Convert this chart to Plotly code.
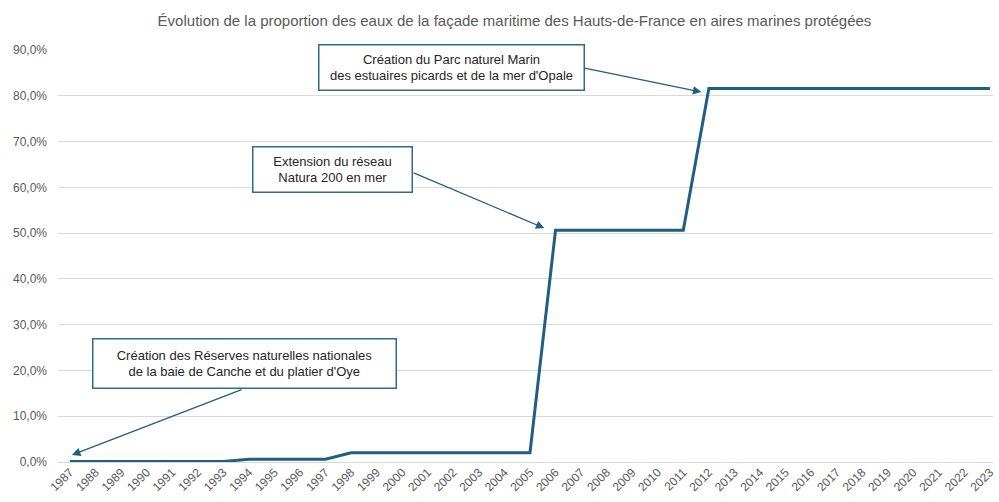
import plotly.graph_objects as go

years = list(range(1987, 2024))
values = ([0.001] * 7 +      # 1987-1993
          [0.006] * 4 +      # 1994-1997
          [0.020] * 8 +      # 1998-2005
          [0.506] * 6 +      # 2006-2011
          [0.816] * 12)      # 2012-2023

title = "Évolution de la proportion des eaux de la façade maritime des Hauts-de-France en aires marines protégées"
notes = [
    "Création des Réserves naturelles nationales<br>de la baie de Canche et du platier d'Oye",
    "Extension du réseau<br>Natura 200 en mer",
    "Création du Parc naturel Marin<br>des estuaires picards et de la mer d'Opale",
]

LINE = "#1F5F82"
BORDER = "#2E6B8C"
GRAY = "#595959"
FONT = "Liberation Sans, Arial"

fig = go.Figure()
fig.add_trace(go.Scatter(x=years, y=values, mode="lines",
                         line=dict(color=LINE, width=3), hoverinfo="skip"))

# arrows (tip, tail) in data coords
arrows = [((1987.08, 0.0153), (1993.77, 0.1595)),
          ((2005.56, 0.511), (2000.39, 0.633)),
          ((2011.71, 0.808), (2007.08, 0.861))]
for (tx, ty), (sx, sy) in arrows:
    fig.add_annotation(x=tx, y=ty, ax=sx, ay=sy, axref="x", ayref="y",
                       xref="x", yref="y", text="", showarrow=True,
                       arrowhead=2, arrowsize=1.3, arrowwidth=1.3,
                       arrowcolor=LINE, standoff=0, startstandoff=0)

boxes = [((1993.81, 0.216), 300, 46),
         ((1997.27, 0.638), 156, 42),
         ((2001.94, 0.861), 262, 42)]
for txt, ((bx, by), w, h) in zip(notes, boxes):
    fig.add_annotation(x=bx, y=by, xref="x", yref="y", text=txt,
                       showarrow=False, width=w, height=h,
                       bordercolor=BORDER, borderwidth=1.5, borderpad=1,
                       bgcolor="white", align="center",
                       font=dict(family=FONT, size=13, color="#262626"))

fig.update_layout(
    width=999, height=502,
    margin=dict(l=58, r=6, t=50, b=40, autoexpand=False),
    paper_bgcolor="white", plot_bgcolor="white",
    separators=", ",
    showlegend=False,
    title=dict(text=title, x=0.515, xanchor="center", y=0.958, yanchor="middle",
               font=dict(family=FONT, size=15, color=GRAY)),
    xaxis=dict(range=[1986.53, 2023.12], tickmode="array", tickvals=years,
               ticktext=[str(y) for y in years], tickangle=-45,
               ticklabeloverflow="allow",
               showgrid=False, zeroline=False, showline=False, automargin=False,
               tickfont=dict(family=FONT, size=12, color=GRAY)),
    yaxis=dict(range=[0, 0.9], tickformat=".1%", dtick=0.1, automargin=False,
               ticklabelstandoff=10,
               showgrid=True, gridcolor="#D9D9D9", gridwidth=1,
               zeroline=True, zerolinecolor="#D9D9D9", zerolinewidth=1,
               showline=False, ticks="", ticklen=0,
               tickfont=dict(family=FONT, size=12, color=GRAY)),
)

fig.write_html("out.html", config={"displayModeBar": False},
               post_script="document.body.style.margin='0';document.body.style.overflow='hidden';")
